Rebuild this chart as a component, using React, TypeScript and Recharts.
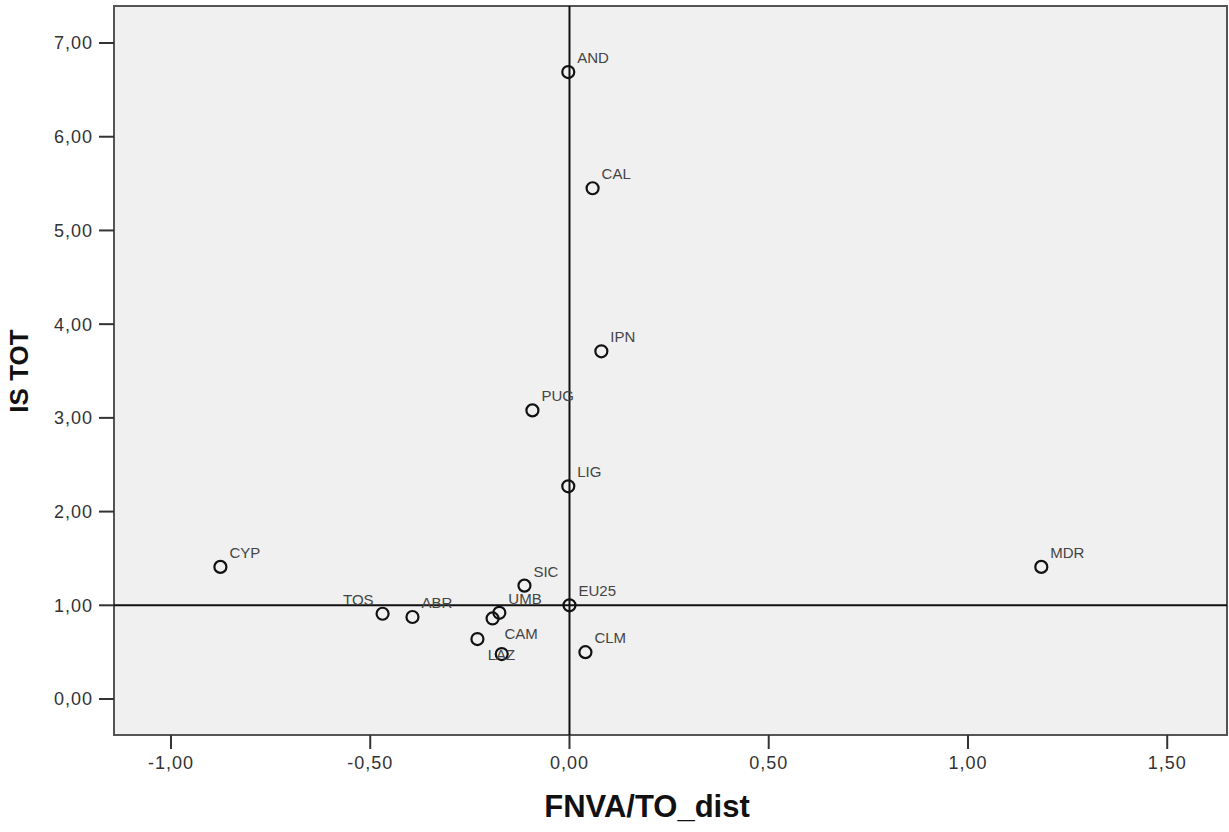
import { ScatterChart, Scatter, XAxis, YAxis, ReferenceLine, ReferenceArea } from "recharts";

// values
const regions = ["AND", "CAL", "IPN", "PUG", "LIG", "CYP", "MDR", "SIC", "EU25", "TOS", "ABR", "UMB", "", "CAM", "LAZ", "CLM"];
const fnvaToDist = [-0.003, 0.058, 0.08, -0.093, -0.003, -0.876, 1.184, -0.113, 0, -0.469, -0.394, -0.176, -0.193, -0.231, -0.17, 0.04];
const isTot = [6.69, 5.45, 3.71, 3.08, 2.27, 1.41, 1.41, 1.21, 1.0, 0.91, 0.875, 0.92, 0.86, 0.64, 0.48, 0.5];

const xTicks = [-1, -0.5, 0, 0.5, 1, 1.5];
const yTicks = [0, 1, 2, 3, 4, 5, 6, 7];
const xDomain: [number, number] = [-1.143, 1.65];
const yDomain: [number, number] = [-0.384, 7.395];

// a few labels were moved off their default spot in the original
const labelPlacement: Record<string, "left" | "over" | "aside"> = { TOS: "left", LAZ: "over", CAM: "aside" };

const points = regions.map((name, i) => ({ name, x: fnvaToDist[i], y: isTot[i] }));

const fmt = (v: number) => v.toFixed(2).replace(".", ",");

const tickStyle = { fontFamily: "Liberation Sans, Arial, sans-serif", fontSize: 18, fill: "#333", letterSpacing: 1 };

function RegionMarker(props: any) {
  const { cx, cy, payload } = props;
  const place = labelPlacement[payload.name];
  let tx = cx + 9;
  let ty = cy - 9;
  let anchor: "start" | "end" = "start";
  if (place === "left") {
    tx = cx - 9;
    anchor = "end";
  } else if (place === "over") {
    tx = cx - 14;
    ty = cy + 6;
  } else if (place === "aside") {
    tx = cx + 27;
    ty = cy;
  }
  return (
    <g>
      <circle cx={cx} cy={cy} r={6} fill="none" stroke="#111" strokeWidth={2.2} />
      {payload.name && (
        <text x={tx} y={ty} textAnchor={anchor} fontFamily="Liberation Sans, Arial, sans-serif" fontSize={15} fill="#444">
          {payload.name}
        </text>
      )}
    </g>
  );
}

export default function App() {
  return (
    <div style={{ position: "absolute", left: 0, top: 0, width: 1229, height: 832, background: "#fff" }}>
      <ScatterChart width={1229} height={832} margin={{ top: 6, right: 2, left: 0, bottom: 0 }}>
        <XAxis
          type="number"
          dataKey="x"
          domain={xDomain}
          ticks={xTicks}
          tickFormatter={fmt}
          allowDataOverflow
          axisLine={false}
          tickSize={14}
          tickMargin={7}
          tickLine={{ stroke: "#333", strokeWidth: 2 }}
          tick={tickStyle}
          height={97}
        />
        <YAxis
          type="number"
          dataKey="y"
          domain={yDomain}
          ticks={yTicks}
          tickFormatter={fmt}
          allowDataOverflow
          axisLine={false}
          tickSize={15}
          tickMargin={6}
          tickLine={{ stroke: "#333", strokeWidth: 2 }}
          tick={tickStyle}
          width={114}
        />
        <ReferenceArea
          x1={xDomain[0]}
          x2={xDomain[1]}
          y1={yDomain[0]}
          y2={yDomain[1]}
          fill="#f0f0f0"
          fillOpacity={1}
          stroke="#555"
          strokeWidth={2}
        />
        <ReferenceLine x={0} stroke="#111" strokeWidth={2} />
        <ReferenceLine y={1} stroke="#111" strokeWidth={2} />
        <Scatter data={points} shape={(p: any) => <RegionMarker {...p} />} isAnimationActive={false} />
      </ScatterChart>
      <svg width={1229} height={832} style={{ position: "absolute", left: 0, top: 0, pointerEvents: "none" }}>
        <text
          x={28}
          y={371}
          transform="rotate(-90, 28, 371)"
          textAnchor="middle"
          fontFamily="Liberation Sans, Arial, sans-serif"
          fontWeight="bold"
          fontSize={26}
          fill="#111"
        >
          IS TOT
        </text>
        <text
          x={647}
          y={817}
          textAnchor="middle"
          fontFamily="Liberation Sans, Arial, sans-serif"
          fontWeight="bold"
          fontSize={31}
          fill="#111"
        >
          FNVA/TO_dist
        </text>
      </svg>
    </div>
  );
}
